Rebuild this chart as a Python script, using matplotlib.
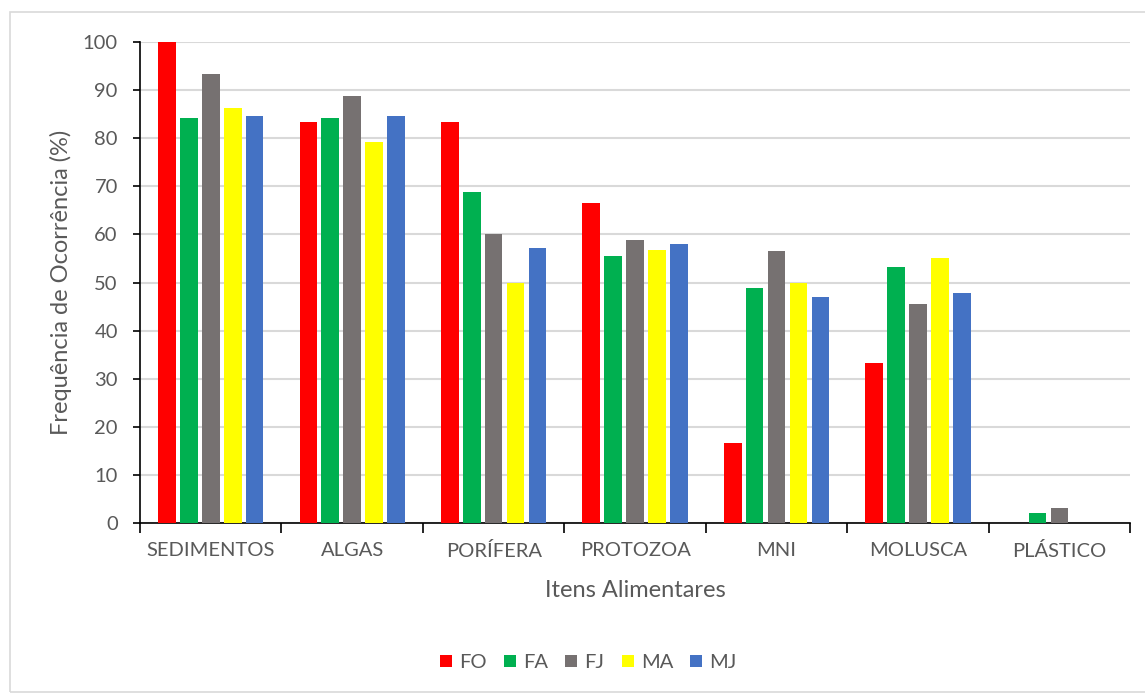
import matplotlib.pyplot as plt
import numpy as np
from matplotlib.patches import Rectangle

categorias = ['SEDIMENTOS', 'ALGAS', 'PORÍFERA', 'PROTOZOA', 'MNI', 'MOLUSCA', 'PLÁSTICO']
series = ['FO', 'FA', 'FJ', 'MA', 'MJ']
fo = [100.0, 83.3, 83.3, 66.6, 16.6, 33.3, 0.0]
fa = [84.3, 84.3, 68.8, 55.5, 48.8, 53.2, 2.1]
fj = [93.3, 88.8, 60.1, 58.8, 56.5, 45.5, 3.2]
ma = [86.3, 79.3, 50.0, 56.8, 50.0, 55.1, 0.0]
mj = [84.6, 84.6, 57.2, 58.0, 47.0, 47.8, 0.0]
cores = ['#ff0000', '#00b050', '#767171', '#ffff00', '#4472c4']

plt.rcParams['font.family'] = ['Lato', 'DejaVu Sans']
texto = '#595959'

fig = plt.figure(figsize=(11.45, 6.93), dpi=100)
ax = fig.add_axes([0.1223, 0.2453, 0.8647, 0.6941])

# moldura cinza da área do gráfico
fig.patches.append(Rectangle((10 / 1145, 0.002), 1.0, 1 - 12 / 693 - 0.002,
                             transform=fig.transFigure, fill=False,
                             edgecolor='#d9d9d9', linewidth=1.2, zorder=0))

x = np.arange(len(categorias))
passo = 0.155
largura = 0.125
for i, (nome, valores) in enumerate(zip(series, [fo, fa, fj, ma, mj])):
    ax.bar(x + (i - 2) * passo, valores, width=largura, color=cores[i],
           label=nome, zorder=3)

ax.set_xlim(-0.5, len(categorias) - 0.5)
ax.set_ylim(0, 100)
ax.set_yticks(np.arange(0, 101, 10))
ax.grid(axis='y', color='#d9d9d9', linewidth=1.5, zorder=0)
ax.set_axisbelow(True)

for lado in ['top', 'right']:
    ax.spines[lado].set_visible(False)
ax.spines['left'].set_color('black')
ax.spines['bottom'].set_color('black')
ax.spines['left'].set_linewidth(1.2)
ax.spines['bottom'].set_linewidth(1.2)

# marcas entre as categorias, como no Excel
ax.set_xticks(np.arange(-0.5, len(categorias), 1.0), minor=False)
ax.set_xticklabels([])
ax.tick_params(axis='x', length=7, width=1.2, color='black', direction='out')
ax.set_xticks(x, minor=True)
ax.set_xticklabels(categorias, minor=True)
ax.tick_params(axis='x', which='minor', length=0, pad=14, labelsize=14.5, labelcolor=texto)
ax.tick_params(axis='y', length=5, width=1.2, color='black', direction='out',
               labelsize=14.5, labelcolor=texto, pad=11)

ax.set_xlabel('Itens Alimentares', fontsize=17, color=texto, labelpad=14)
ax.set_ylabel('Frequência de Ocorrência (%)', fontsize=17, color=texto, labelpad=8)

fig.legend(loc='center', bbox_to_anchor=(0.514, 0.044), ncol=5, frameon=False,
           fontsize=14.5, labelcolor=texto, handlelength=0.6, handleheight=0.6,
           handletextpad=0.35, columnspacing=0.85)

fig.savefig('out.png', dpi=100)
